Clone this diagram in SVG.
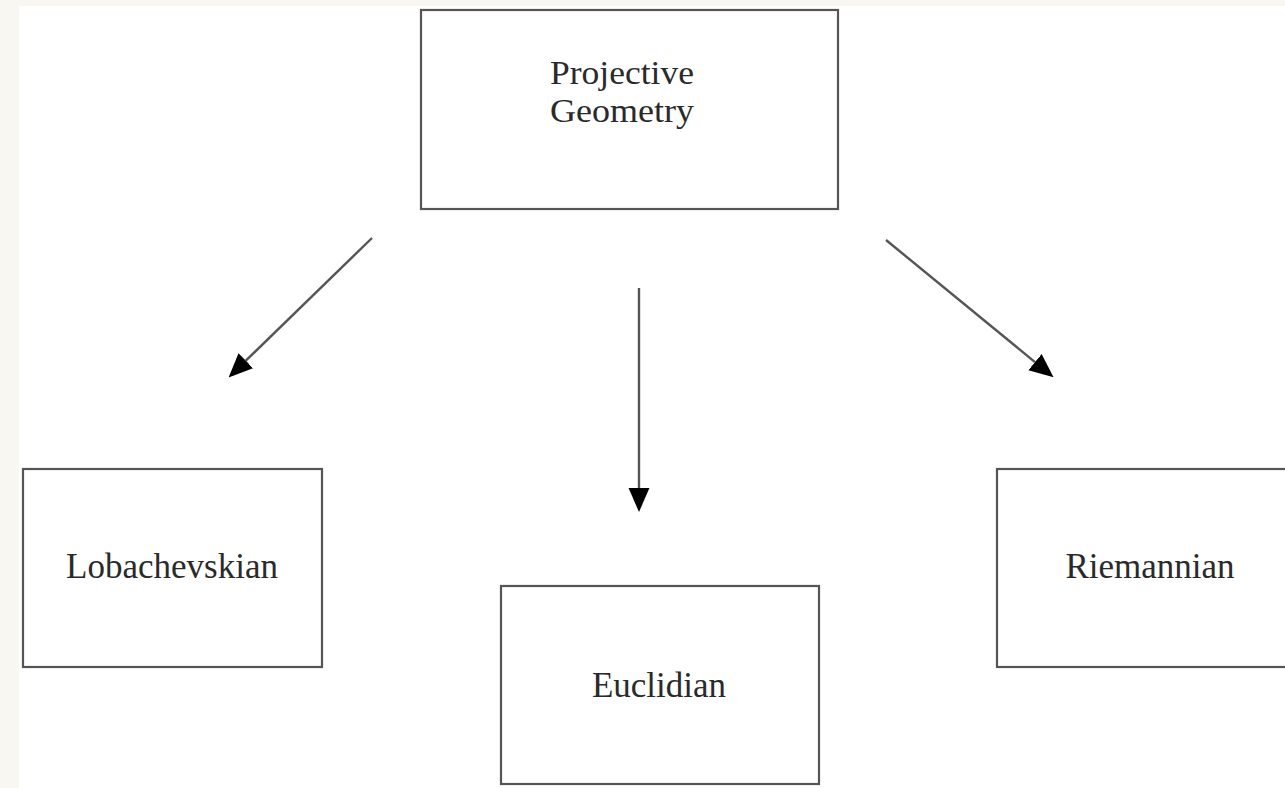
<svg xmlns="http://www.w3.org/2000/svg" width="1285" height="788" viewBox="0 0 1285 788">
<style>
.box{fill:#ffffff;stroke:#555555;stroke-width:2.2}
.lbl{font-family:"Liberation Serif","Times New Roman",serif;font-size:35px;fill:#2a2a2a;text-anchor:middle}
.lbl2{font-size:33px}
.edge{stroke:#555555;stroke-width:2.4;fill:none}
</style>
<defs>
<marker id="ah" markerUnits="userSpaceOnUse" markerWidth="24" markerHeight="22" viewBox="0 0 23 20" refX="0" refY="10" orient="auto">
<path d="M0,0 L23,10 L0,20 Z" fill="#000000"/>
</marker>
</defs>
<rect x="0" y="0" width="1285" height="788" fill="#f8f7f2"/>
<rect x="19" y="6" width="1266" height="782" fill="#ffffff"/>
<g id="connectors">
<line class="edge" x1="372" y1="238" x2="245.8" y2="360.7" marker-end="url(#ah)"/>
<line class="edge" x1="639" y1="288" x2="639" y2="488" marker-end="url(#ah)"/>
<line class="edge" x1="886" y1="240" x2="1035" y2="362.1" marker-end="url(#ah)"/>
</g>
<g id="projective">
<rect class="box" x="421" y="10" width="417" height="199"/>
<text class="lbl lbl2" x="622" y="84" textLength="144" lengthAdjust="spacingAndGlyphs">Projective</text>
<text class="lbl lbl2" x="622" y="122" textLength="144" lengthAdjust="spacingAndGlyphs">Geometry</text>
</g>
<g id="lobachevskian">
<rect class="box" x="23" y="469" width="299" height="198"/>
<text class="lbl" x="172" y="578">Lobachevskian</text>
</g>
<g id="euclidian">
<rect class="box" x="501" y="586" width="318" height="198"/>
<text class="lbl" x="659" y="697">Euclidian</text>
</g>
<g id="riemannian">
<rect class="box" x="997" y="469" width="300" height="198"/>
<text class="lbl" x="1150" y="578">Riemannian</text>
</g>
</svg>
